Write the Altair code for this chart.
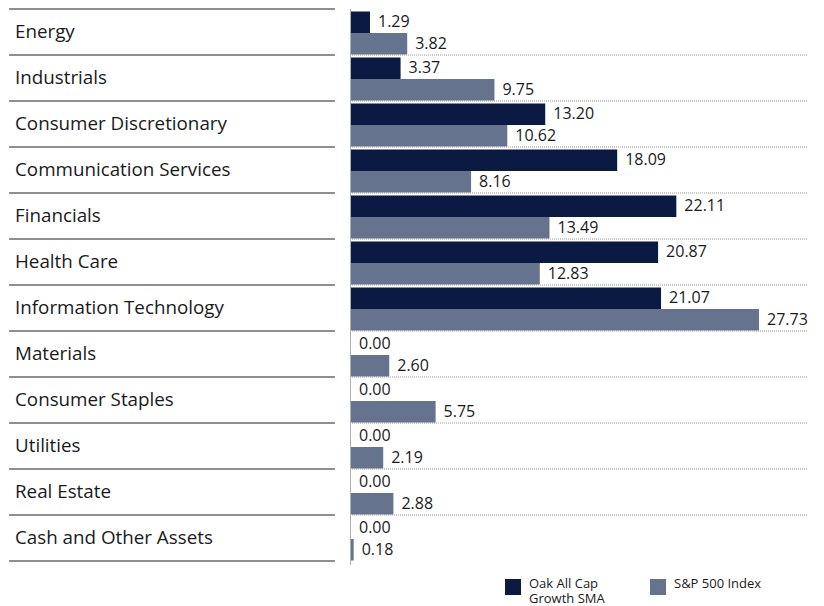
import altair as alt
import pandas as pd

categories = ["Energy", "Industrials", "Consumer Discretionary", "Communication Services",
              "Financials", "Health Care", "Information Technology", "Materials",
              "Consumer Staples", "Utilities", "Real Estate", "Cash and Other Assets"]
series = ["Oak All Cap Growth SMA", "S&P 500 Index"]
legend_text = ["Oak All Cap\nGrowth SMA", "S&P 500 Index"]
oak = [1.29, 3.37, 13.20, 18.09, 22.11, 20.87, 21.07, 0.00, 0.00, 0.00, 0.00, 0.00]
sp500 = [3.82, 9.75, 10.62, 8.16, 13.49, 12.83, 27.73, 2.60, 5.75, 2.19, 2.88, 0.18]
colors = ["#0b1a42", "#66738e"]

rows = []
for c, a, b in zip(categories, oak, sp500):
    rows.append({"cat": c, "series": series[0], "value": a})
    rows.append({"cat": c, "series": series[1], "value": b})
df = pd.DataFrame(rows)
cats_df = pd.DataFrame({"cat": categories})
inner_df = pd.DataFrame({"cat": categories[1:]})
last_df = pd.DataFrame({"cat": categories[-1:]})
leg_df = pd.DataFrame({"series": series, "label": legend_text})

FONT = "Open Sans"
yscale = alt.Scale(domain=categories, range=[0, 552], paddingInner=0, paddingOuter=0)
xscale = alt.Scale(domain=[0, 28], range=[343, 755])
offscale = alt.Scale(range=[2.5, 45.5], paddingInner=0, paddingOuter=0)
cscale = alt.Scale(domain=series, range=colors)
legx = alt.Scale(type="point", domain=series, range=[505, 650], padding=0)

base = alt.Chart(df)

bars = base.mark_bar().encode(
    y=alt.Y("cat:N", scale=yscale, axis=None, sort=categories),
    yOffset=alt.YOffset("series:N", sort=series, scale=offscale),
    x=alt.X("value:Q", scale=xscale, axis=None),
    color=alt.Color("series:N", sort=series, scale=cscale, legend=None),
)

labels = base.mark_text(align="left", baseline="middle", dx=8, font=FONT,
                        fontSize=16, color="#1a1a1a", fontWeight=500).encode(
    y=alt.Y("cat:N", scale=yscale, axis=None, sort=categories),
    yOffset=alt.YOffset("series:N", sort=series, scale=offscale),
    x=alt.X("value:Q", scale=xscale, axis=None),
    text=alt.Text("value:Q", format=".2f"),
)

cat_text = alt.Chart(cats_df).mark_text(align="left", baseline="middle", font=FONT,
                                        fontSize=18.8, color="#1a1a1a", fontWeight=500).encode(
    y=alt.Y("cat:N", scale=yscale, axis=None, sort=categories),
    x=alt.value(7),
    text="cat:N",
)

left_lines = alt.Chart(cats_df).mark_rule(color="#6a6a6a", strokeWidth=1.5).encode(
    y=alt.Y("cat:N", scale=yscale, axis=None, sort=categories, bandPosition=0),
    x=alt.value(1), x2=alt.value(327),
)
left_bottom = alt.Chart(last_df).mark_rule(color="#6a6a6a", strokeWidth=1.5).encode(
    y=alt.Y("cat:N", scale=yscale, axis=None, sort=categories, bandPosition=1),
    x=alt.value(1), x2=alt.value(327),
)
right_lines = alt.Chart(inner_df).mark_rule(color="#9a9a9a", strokeWidth=1, strokeDash=[1, 1]).encode(
    y=alt.Y("cat:N", scale=yscale, axis=None, sort=categories, bandPosition=0),
    x=alt.value(342), x2=alt.value(799),
)
vaxis = alt.Chart(cats_df.head(1)).mark_rule(color="#b0b0b0", strokeWidth=1).encode(
    x=alt.value(342.5), y=alt.value(0), y2=alt.value(556),
)

leg_sym = alt.Chart(leg_df).mark_square(size=256, opacity=1).encode(
    x=alt.X("series:N", scale=legx, axis=None),
    y=alt.value(578),
    color=alt.Color("series:N", scale=cscale, legend=None),
)
leg_txt = alt.Chart(leg_df).mark_text(align="left", baseline="top", dx=16, font=FONT,
                                      fontSize=13, color="#1a1a1a", lineBreak="\n",
                                      lineHeight=15, fontWeight=500).encode(
    x=alt.X("series:N", scale=legx, axis=None),
    y=alt.value(569),
    text="label:N",
)

legend = alt.layer(leg_sym, leg_txt)
main = alt.layer(left_lines, left_bottom, right_lines, vaxis, bars, labels, cat_text)

chart = alt.layer(main, legend).resolve_scale(x="independent").properties(
    width=808, height=590, padding=0
).configure_view(stroke=None)

chart.save("out.html", embed_options={"renderer": "svg", "actions": False})
